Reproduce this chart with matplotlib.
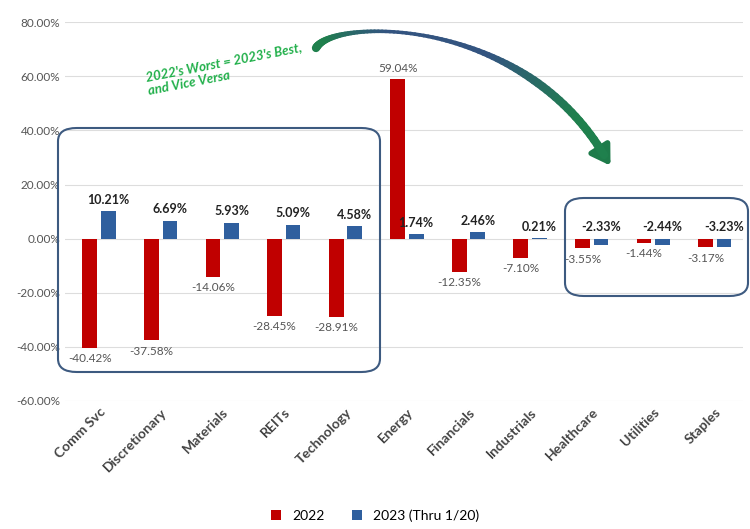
import matplotlib.pyplot as plt
import numpy as np
from matplotlib.patches import FancyBboxPatch, FancyArrowPatch
from matplotlib.collections import LineCollection

sectors = ['Comm Svc', 'Discretionary', 'Materials', 'REITs', 'Technology', 'Energy',
           'Financials', 'Industrials', 'Healthcare', 'Utilities', 'Staples']
ret_2022 = [-40.42, -37.58, -14.06, -28.45, -28.91, 59.04, -12.35, -7.10, -3.55, -1.44, -3.17]
ret_2023 = [10.21, 6.69, 5.93, 5.09, 4.58, 1.74, 2.46, 0.21, -2.33, -2.44, -3.23]
yticks = [80, 60, 40, 20, 0, -20, -40, -60]

red = '#C00000'
blue = '#2F5F9E'

plt.rcParams['font.family'] = ['Lato', 'DejaVu Sans']

fig = plt.figure(figsize=(7.5, 5.29), dpi=100)
ax = fig.add_axes([0.087, 0.242, 0.903, 0.716])

x = np.arange(len(sectors))
w = 0.24
ax.bar(x - 0.15, ret_2022, w, color=red, label='2022', zorder=3)
ax.bar(x + 0.15, ret_2023, w, color=blue, label='2023 (Thru 1/20)', zorder=3)

for i in range(len(sectors)):
    v = ret_2022[i]
    if v >= 0:
        ax.text(x[i] - 0.15, v + 2, '%.2f%%' % v, ha='center', va='bottom', fontsize=8.5, color='#555555')
    else:
        ax.text(x[i] - 0.15, v - 2, '%.2f%%' % v, ha='center', va='top', fontsize=8.5, color='#555555')
    v = ret_2023[i]
    yy = max(v, 0) + 2
    ax.text(x[i] + 0.15, yy, '%.2f%%' % v, ha='center', va='bottom', fontsize=9,
            fontweight='bold', color='#222222')

ax.set_ylim(-60, 80)
ax.set_xlim(-0.55, 10.45)
ax.set_yticks(yticks)
ax.set_yticklabels(['%.2f%%' % t for t in yticks], fontsize=8.5, color='#555555')
ax.set_xticks(x)
ax.set_xticklabels(sectors, rotation=45, ha='right', rotation_mode='anchor',
                   fontsize=10, fontweight='bold', color='#444444')
ax.tick_params(length=0)
ax.grid(axis='y', color='#dddddd', linewidth=0.8, zorder=0)
for s in ax.spines.values():
    s.set_visible(False)


def px(xp, yp):
    # figure pixel (from top-left) -> figure fraction
    return (xp / 750, 1 - yp / 529)


def fig_box(x0, y0, x1, y1):
    return FancyBboxPatch(px(x0, y1), (x1 - x0) / 750, (y1 - y0) / 529,
                          boxstyle='round,pad=0,rounding_size=0.025', transform=fig.transFigure,
                          fill=False, edgecolor='#3D5A80', linewidth=1.5, zorder=5)

fig.patches.append(fig_box(58, 128, 380, 372))
fig.patches.append(fig_box(565, 198, 748, 296))

# curved arrow: cubic bezier, green at the ends, blue in the middle
p0, c1, c2, p3 = np.array([316, 48]), np.array([333, 18]), np.array([520, 15]), np.array([604, 155])
t = np.linspace(0, 1, 80)[:, None]
pts = (1 - t) ** 3 * p0 + 3 * (1 - t) ** 2 * t * c1 + 3 * (1 - t) * t ** 2 * c2 + t ** 3 * p3
pts = np.column_stack([pts[:, 0] / 750, 1 - pts[:, 1] / 529])
segs = np.stack([pts[:-1], pts[1:]], axis=1)
tt = t[:-1, 0]
green_c = np.array([0.12, 0.50, 0.30])
blue_c = np.array([0.20, 0.33, 0.50])
mix = np.clip(np.abs(tt - 0.5) * 4 - 0.6, 0, 1)[:, None]
cols = mix * green_c + (1 - mix) * blue_c
lws = 6 - 3.5 * np.sin(np.pi * np.clip(tt * 1.3, 0, 1))
lc = LineCollection(segs, colors=cols, linewidths=lws, transform=fig.transFigure, capstyle='round')
fig.add_artist(lc)
head = FancyArrowPatch(px(598, 146), px(612, 168), transform=fig.transFigure,
                       arrowstyle='-|>,head_width=5,head_length=8', mutation_scale=1.4,
                       color='#1E7B4A', linewidth=4)
fig.patches.append(head)

fig.text(149 / 750, 1 - 93 / 529, "2022's Worst = 2023's Best,\nand Vice Versa", rotation=11,
         ha='left', va='baseline', multialignment='left', fontsize=9.5, fontstyle='italic',
         fontweight='bold', color='#22B04B', rotation_mode='anchor')

fig.legend(loc='lower center', ncol=2, frameon=False, fontsize=10, handlelength=0.7,
           handleheight=0.7, bbox_to_anchor=(0.5, -0.01))

fig.savefig('out.png', dpi=100)
